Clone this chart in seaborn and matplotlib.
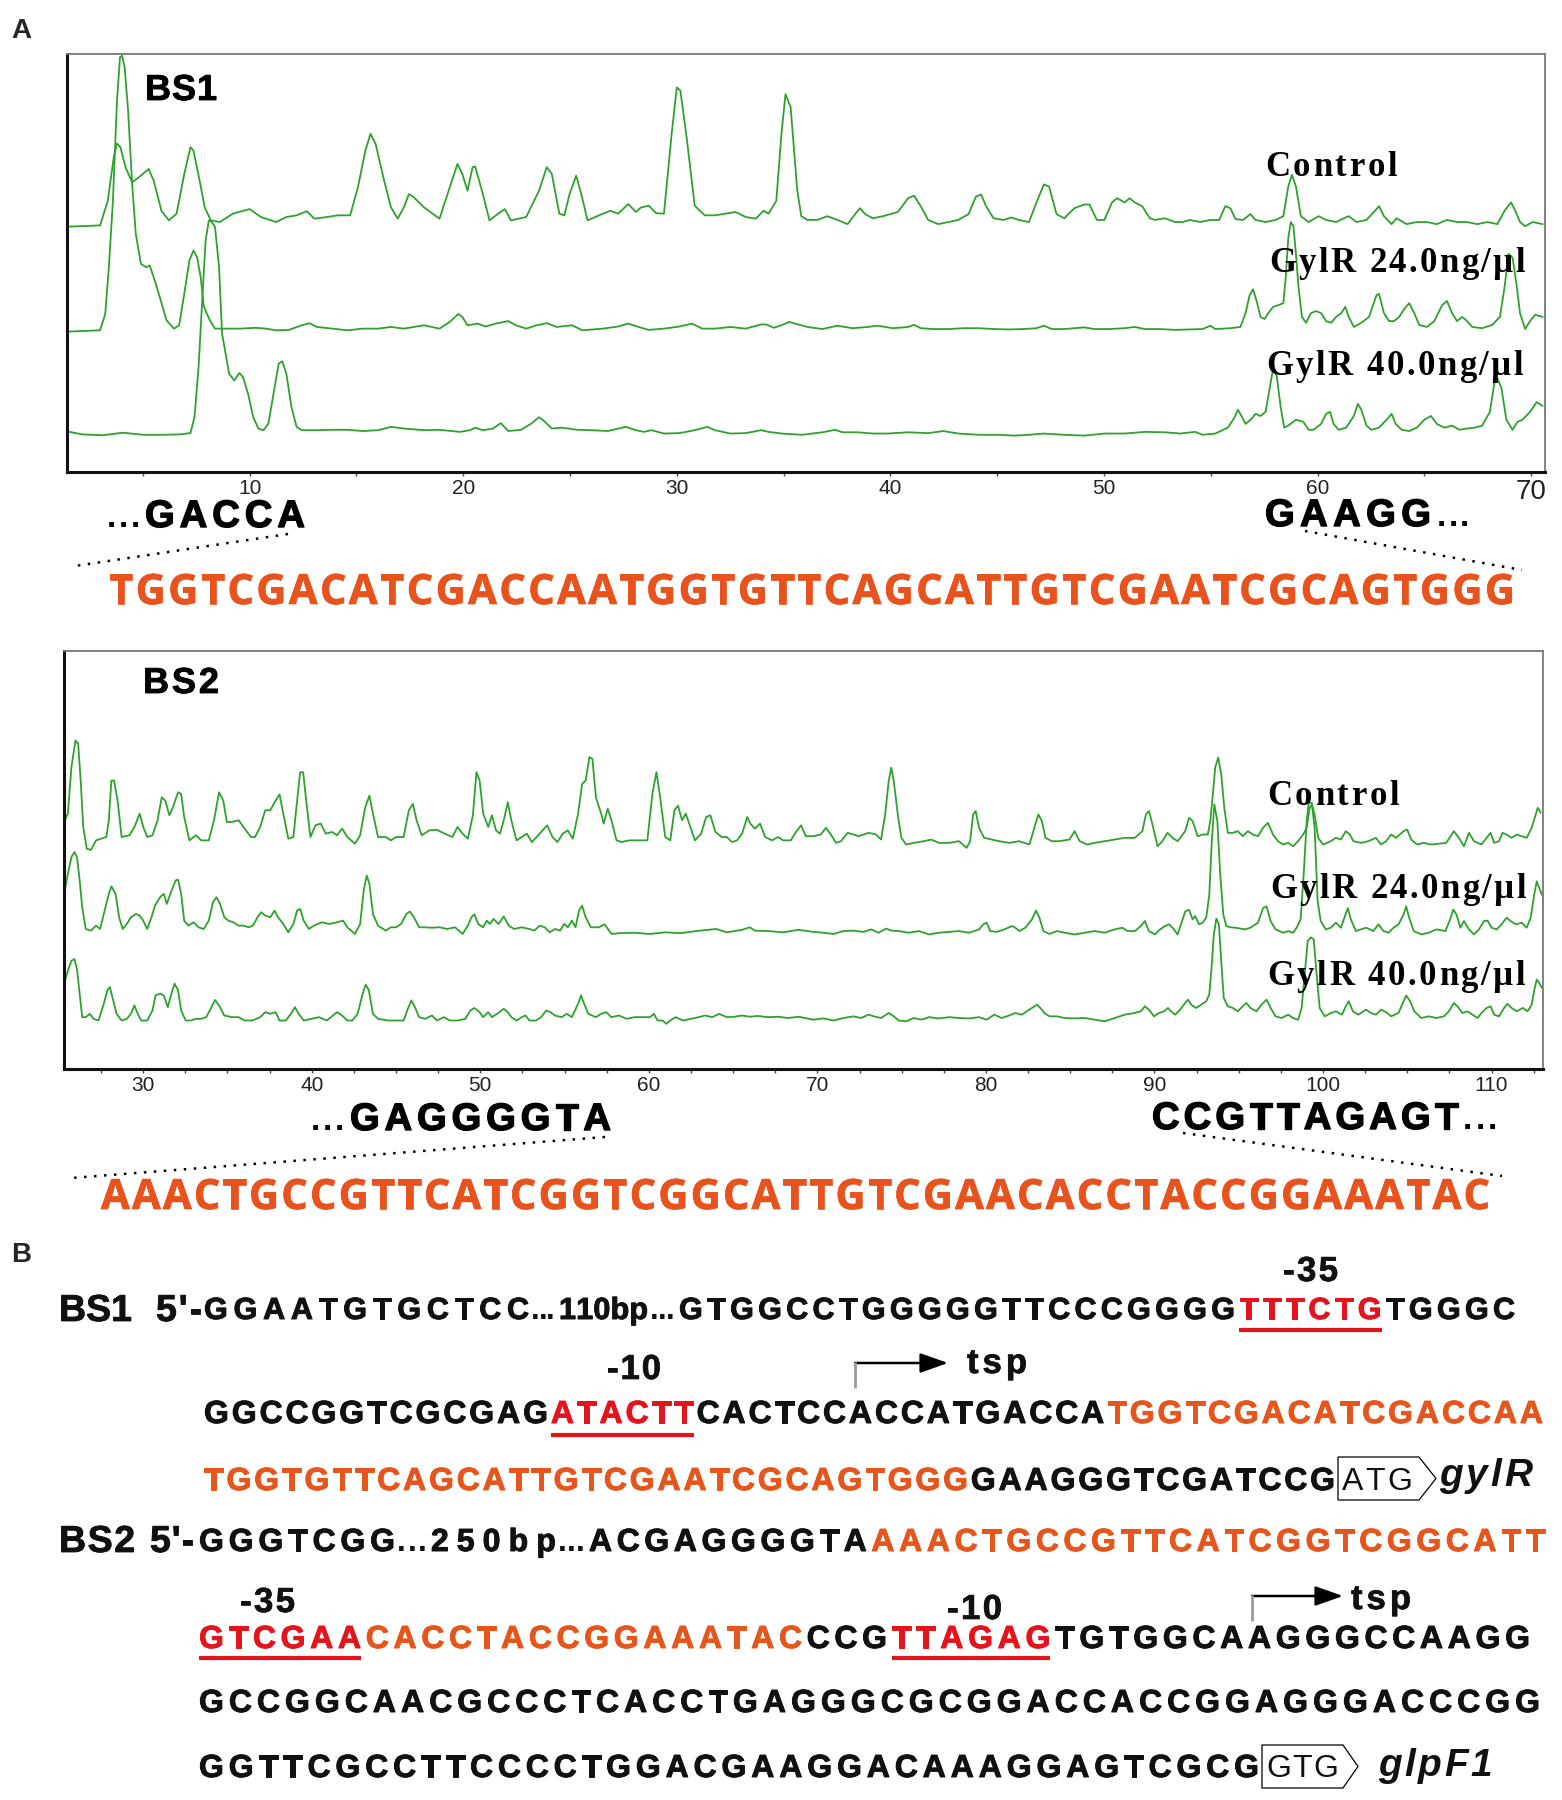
import numpy as np
import pandas as pd
import matplotlib
matplotlib.use('Agg')
import matplotlib.pyplot as plt
import seaborn as sns
from matplotlib.font_manager import FontProperties
from matplotlib.lines import Line2D
from matplotlib.patches import Polygon, FancyArrowPatch, ArrowStyle
from matplotlib.ticker import MultipleLocator
from matplotlib import patheffects

# ---------------------------------------------------------------- data
# BS1 footprint traces (position in bp, relative signal in % of panel height)
bs1_control_bp = [1.57,3.00,3.36,3.64,3.79,3.95,4.19,4.50,4.91,5.27,5.51,5.87,6.22,6.58,6.94,7.23,7.37,7.66,7.90,8.18,8.61,9.21,10.00,10.53,11.24,11.72,12.20,12.68,13.03,13.63,14.11,14.71,15.07,15.42,15.66,15.90,16.26,16.62,16.93,17.22,17.46,17.69,18.17,18.89,19.37,19.73,19.96,20.20,20.44,20.56,20.92,21.23,21.64,21.95,22.23,22.95,23.55,23.91,24.15,24.50,24.74,24.98,25.29,25.53,25.82,26.54,26.89,27.25,27.73,28.09,28.33,28.69,29.04,29.40,29.76,30.00,30.17,30.48,30.84,31.31,31.79,32.27,32.75,33.23,33.70,34.06,34.30,34.66,34.90,35.09,35.33,
                  35.64,35.83,36.11,36.58,37.05,37.52,38.00,38.35,38.58,38.82,39.17,39.65,40.35,40.83,41.11,41.42,41.77,42.24,42.71,43.18,43.66,44.01,44.25,44.48,44.83,45.31,45.66,46.01,46.49,46.84,47.19,47.43,47.78,48.14,48.61,49.08,49.32,49.67,50.02,50.38,50.61,50.97,51.20,51.44,51.79,52.15,52.38,52.85,53.33,53.68,54.03,54.50,54.98,55.40,55.68,55.92,56.16,56.51,56.86,57.10,57.57,58.04,58.40,58.63,58.80,58.99,59.22,59.58,60.05,60.40,60.87,61.23,61.46,61.82,62.29,62.64,62.88,63.11,63.47,63.70,64.17,64.65,65.12,65.59,66.06,66.53,67.00,67.48,67.95,68.42,68.77,69.06,69.25,69.48,69.72,70.07,70.54]
bs1_control_sig = [58.7,59.0,64.9,75.3,78.6,77.7,72.9,69.3,70.9,72.5,69.7,62.5,60.2,61.8,71.3,77.7,76.9,69.7,63.3,60.2,59.8,61.8,62.9,61.0,59.8,61.0,61.4,62.4,60.6,61.0,61.4,61.4,68.1,76.9,80.9,78.5,70.5,63.3,60.6,63.3,66.5,65.7,63.3,60.6,68.1,73.7,71.3,67.3,72.9,73.1,66.5,60.2,61.8,62.9,60.2,61.0,67.3,72.9,71.3,61.8,61.4,66.5,70.9,66.5,60.2,61.8,62.5,61.8,64.1,62.2,63.3,63.7,61.9,61.8,80.9,92.0,91.2,79.3,63.7,61.4,61.4,61.8,62.2,61.0,60.6,62.5,61.8,64.9,80.9,90.4,87.3,
                   67.4,61.2,60.3,60.3,61.2,60.3,59.3,61.7,63.1,61.7,60.7,61.2,62.2,65.5,66.1,63.6,60.3,59.3,59.8,60.3,61.7,65.9,66.4,63.6,60.7,60.3,60.9,60.3,59.8,64.5,68.8,68.3,61.7,60.7,63.1,64.0,64.0,60.3,60.3,64.5,65.5,64.5,65.5,64.5,63.6,60.7,60.3,60.7,59.8,59.8,60.3,59.8,60.3,60.3,63.6,63.1,60.5,60.3,61.7,60.3,59.8,60.3,61.2,68.3,71.1,68.3,61.2,59.8,61.2,60.3,59.8,60.7,61.2,59.8,60.3,62.2,63.6,61.2,59.3,60.7,59.3,59.8,59.8,59.3,60.3,59.8,59.8,59.3,59.8,59.3,62.6,64.5,62.6,59.8,58.8,59.8,59.3]

bs1_g24_bp = [1.57,3.00,3.24,3.41,3.60,3.79,3.93,4.03,4.15,4.31,4.50,4.67,4.91,5.15,5.32,5.51,5.75,6.11,6.46,6.70,6.94,7.18,7.37,7.54,7.71,7.85,7.97,8.14,8.38,8.85,9.57,10.29,10.76,11.24,11.84,12.44,12.80,13.15,13.87,14.59,15.30,16.02,16.62,17.22,18.17,18.89,19.37,19.77,19.96,20.20,20.68,21.04,21.52,22.11,22.47,22.95,23.43,23.91,24.38,25.10,25.58,26.54,27.25,27.73,28.21,28.69,29.40,30.12,30.72,31.19,31.79,32.51,33.23,33.94,34.18,34.54,34.90,35.26,
              36.11,36.82,37.52,38.23,38.94,39.41,40.12,40.83,41.11,41.42,42.00,42.71,43.42,44.13,44.83,45.54,46.25,46.84,47.19,47.55,48.14,48.61,49.08,49.55,50.26,50.97,51.44,51.91,52.62,53.33,54.03,54.62,54.98,55.21,55.92,56.39,56.63,56.82,56.98,57.15,57.33,57.52,57.69,57.92,58.16,58.40,58.51,58.63,58.75,58.87,58.99,59.10,59.27,59.46,59.69,59.93,60.17,60.40,60.64,60.87,61.11,61.30,61.46,61.70,62.05,62.41,62.76,62.88,63.11,63.35,63.58,63.82,64.06,64.29,64.53,64.76,65.12,65.47,65.83,66.06,66.30,66.53,66.77,67.00,67.24,67.71,68.18,68.54,68.77,68.94,69.13,69.32,69.48,69.72,69.95,70.19,70.54]
bs1_g24_sig = [33.6,33.9,37.8,49.0,64.9,88.8,99.2,99.6,96.8,86.5,68.9,57.0,49.8,49.0,49.4,46.6,42.6,36.3,34.3,35.1,42.6,50.6,53.0,51.4,46.6,39.8,38.2,36.3,34.3,34.3,34.3,34.5,34.3,33.9,34.0,35.1,35.6,34.7,34.3,33.9,34.3,34.3,34.7,34.3,35.1,34.3,35.9,37.8,37.1,35.1,35.5,34.8,35.5,36.1,35.1,34.3,35.1,35.6,34.7,35.1,33.9,34.3,34.8,35.5,34.7,34.0,34.3,34.8,35.5,34.3,34.3,34.7,34.3,35.3,35.3,34.5,35.1,35.9,
               34.7,34.2,35.0,34.4,34.7,35.0,34.4,34.7,35.2,34.4,34.2,34.2,34.4,34.4,34.2,34.1,34.2,34.4,35.0,34.2,34.2,34.4,34.6,34.2,34.2,34.4,34.7,34.2,34.2,34.0,34.1,34.2,35.0,34.2,34.4,34.7,38.0,42.3,43.7,40.9,37.1,36.6,38.0,39.5,39.9,40.4,46.5,56.0,59.8,58.8,52.2,44.7,37.1,35.7,38.0,38.5,38.0,36.1,35.7,37.1,38.0,39.5,37.1,34.7,35.7,37.1,42.3,42.6,38.0,36.1,36.1,37.1,39.0,40.4,38.0,35.2,34.7,36.1,39.9,40.9,38.0,36.1,37.1,36.1,34.7,34.4,35.2,37.1,44.7,52.2,51.3,44.7,38.0,34.2,36.1,37.6,37.1]

bs1_g40_bp = [1.57,2.16,3.12,4.07,5.03,5.99,6.70,7.23,7.42,7.61,7.78,7.94,8.09,8.23,8.38,8.57,8.71,8.85,9.04,9.28,9.52,9.69,9.93,10.17,10.41,10.65,10.88,11.12,11.36,11.53,11.72,11.96,12.20,12.44,13.15,13.87,14.59,15.30,16.02,16.62,17.22,18.17,18.89,19.84,20.32,20.56,20.92,21.40,21.76,22.11,22.71,23.19,23.55,23.79,24.15,24.62,25.34,26.06,26.77,27.61,28.09,28.45,28.81,29.40,30.12,30.84,31.43,31.79,32.51,33.23,33.94,34.30,34.90,
              35.87,36.82,37.41,37.76,38.47,39.17,39.88,40.83,41.77,42.48,43.18,44.13,45.07,45.78,46.49,47.19,48.14,49.08,50.02,50.97,51.91,52.85,53.56,54.27,54.62,55.21,55.80,56.11,56.27,56.44,56.63,56.86,57.10,57.33,57.57,57.76,57.92,58.09,58.28,58.44,58.63,58.99,59.34,59.58,59.81,60.17,60.40,60.59,60.75,60.99,61.34,61.70,61.89,62.05,62.29,62.52,62.88,63.23,63.47,63.66,63.94,64.29,64.65,65.00,65.31,65.59,65.94,66.30,66.65,67.00,67.36,67.71,68.07,68.30,68.42,68.61,68.84,69.13,69.36,69.60,69.95,70.26,70.54]
bs1_g40_sig = [9.6,9.0,8.8,9.4,8.9,8.9,9.0,9.3,13.1,25.1,41.0,55.4,60.2,59.8,58.6,49.0,33.1,29.1,23.5,21.9,23.7,22.7,18.7,13.1,10.4,10.0,11.6,18.7,25.9,26.5,23.5,15.5,10.8,10.0,10.0,10.1,10.1,9.8,10.0,10.8,10.4,10.0,10.1,9.6,10.0,10.6,10.0,10.4,11.7,9.8,10.1,11.6,13.1,12.2,10.4,10.6,10.1,10.0,9.8,10.8,10.0,9.6,10.0,9.2,9.3,10.0,10.8,10.0,9.2,9.3,10.0,9.6,9.2,
               8.9,9.5,10.1,9.5,9.5,9.2,9.2,9.5,9.3,9.8,9.2,8.9,8.9,8.7,8.9,9.2,8.9,8.7,9.2,9.2,9.6,9.5,9.2,9.6,8.9,9.2,10.6,13.0,14.9,13.4,11.5,12.5,13.9,13.4,14.4,20.1,24.8,22.9,15.3,10.6,11.1,12.5,12.0,10.1,10.1,11.5,13.9,14.4,11.5,10.1,10.6,13.4,16.3,14.9,11.1,10.1,10.6,12.5,13.9,11.5,10.1,9.8,10.6,12.5,13.4,11.5,10.6,11.1,10.1,10.4,10.6,11.1,14.4,21.9,22.4,20.1,12.5,10.1,12.0,12.5,14.4,16.7,15.8]

# BS2 footprint traces
bs2_control_bp = [25.31,25.53,25.74,25.98,26.14,26.29,26.44,26.65,26.90,27.20,27.50,27.81,27.96,28.11,28.27,28.48,28.72,29.18,29.48,29.79,30.00,30.24,30.55,30.85,31.10,31.31,31.55,31.76,32.07,32.25,32.43,32.74,33.13,33.44,33.89,34.20,34.50,34.75,34.96,35.26,35.66,36.02,36.39,36.63,36.94,37.24,37.54,37.85,38.09,38.31,38.61,38.91,39.07,39.31,39.49,39.67,39.92,40.22,40.53,40.83,41.20,41.50,41.80,42.11,42.56,42.87,43.17,43.42,43.63,43.93,44.39,44.69,45.00,45.45,45.76,46.00,46.22,46.52,46.98,47.43,47.89,48.34,48.65,48.95,49.26,49.56,49.77,49.96,50.17,50.47,50.69,50.93,51.17,51.39,51.63,51.84,52.15,52.45,52.76,53.06,53.52,53.97,54.28,54.58,54.89,55.19,55.49,55.80,56.04,56.25,56.47,56.65,56.86,57.17,57.32,57.56,57.78,58.08,58.38,58.84,59.45,59.91,60.21,60.45,60.67,60.97,61.27,61.52,61.73,61.97,62.19,62.43,62.73,63.10,63.40,63.65,63.95,64.32,64.62,64.93,65.23,65.53,65.84,66.02,66.29,66.60,66.90,67.30,67.66,67.97,68.42,68.73,69.03,
                  69.31,69.76,70.21,70.50,70.80,71.10,71.40,71.79,72.14,72.44,72.74,73.04,73.48,73.78,74.02,74.23,74.38,74.53,74.77,74.98,75.27,75.72,76.32,76.76,77.21,77.81,78.40,78.85,79.06,79.24,79.39,79.59,79.89,80.34,80.79,81.38,81.98,82.58,82.87,83.11,83.32,83.53,83.92,84.36,84.96,85.26,85.56,86.00,86.45,87.05,87.64,88.24,88.83,89.28,89.49,89.67,89.88,90.18,90.47,90.77,91.07,91.37,91.82,92.05,92.26,92.56,92.86,93.16,93.31,93.48,93.60,93.78,93.96,94.14,94.35,94.65,94.94,95.24,95.54,95.84,96.14,96.44,96.73,97.03,97.33,97.63,97.93,98.22,98.52,98.82,99.03,99.21,99.33,99.50,99.71,100.01,100.46,100.76,101.06,101.35,101.59,101.80,102.25,102.69,103.14,103.44,103.74,104.04,104.33,104.78,104.99,105.23,105.59,105.97,106.42,106.87,107.31,107.76,108.06,108.36,108.66,108.95,109.40,109.70,109.94,110.15,110.44,110.65,110.89,111.19,111.49,111.79,112.08,112.38,112.62,112.74,112.92]
bs2_control_sig = [59.1,61.1,72.2,78.6,77.8,69.0,57.9,52.7,52.4,54.7,55.1,55.5,59.5,69.0,69.0,64.2,55.5,55.9,57.9,61.1,57.9,55.5,55.9,59.5,65.0,64.2,60.7,62.6,66.2,65.8,60.3,54.7,55.9,54.7,54.7,59.5,66.2,64.2,59.1,59.1,59.5,57.5,55.5,55.5,57.9,61.9,61.9,64.2,65.7,61.1,55.1,55.5,61.9,71.0,71.0,64.2,55.5,58.3,58.7,56.3,56.7,55.9,57.5,55.5,53.9,55.9,62.6,65.4,61.1,55.5,55.5,54.7,55.5,55.5,61.9,63.4,59.5,55.9,57.1,57.2,56.3,55.5,57.9,56.3,55.1,60.7,71.0,69.0,61.1,57.9,60.7,57.1,56.3,59.5,63.8,59.5,54.7,55.5,56.3,54.3,56.3,58.3,55.5,54.3,56.3,57.1,55.1,61.1,68.2,69.0,74.6,74.2,65.0,61.1,58.7,62.3,59.5,54.7,54.3,54.7,54.7,54.7,65.8,71.0,65.0,55.5,54.7,61.9,63.0,59.5,61.1,58.3,54.7,56.3,60.3,60.7,56.7,55.5,55.5,54.3,54.7,56.3,60.3,58.7,57.5,58.7,55.5,54.7,55.5,54.7,54.7,56.7,58.3,
                   55.7,55.7,56.1,57.7,56.1,54.1,54.5,56.5,56.1,55.7,56.1,56.5,56.1,54.9,60.9,68.9,72.1,68.9,60.9,55.3,53.7,54.1,54.5,54.9,54.1,54.1,54.5,52.9,54.5,60.9,61.7,57.7,55.3,54.9,54.5,54.1,54.5,53.7,57.7,60.9,59.3,55.3,54.5,54.5,54.9,56.9,54.5,53.7,54.1,54.5,54.9,55.3,55.3,56.9,60.9,61.7,58.5,53.3,54.5,56.5,55.3,54.5,56.9,60.1,59.3,55.7,56.1,56.1,59.3,66.5,72.1,74.5,70.5,62.5,56.5,56.5,56.9,55.7,56.9,56.1,55.7,57.7,58.9,56.1,54.5,53.7,54.1,53.3,54.5,56.1,57.7,62.5,63.3,60.9,55.3,53.7,54.5,55.3,54.9,56.9,56.1,54.5,54.1,54.5,55.3,53.7,54.5,56.1,55.3,56.9,57.3,54.9,53.7,54.1,53.7,53.9,54.1,56.9,55.3,53.3,56.5,54.5,53.7,55.3,56.5,54.1,54.5,56.5,56.1,55.3,56.1,55.7,55.3,57.7,60.9,62.5,61.3]

bs2_g24_bp = [25.31,25.53,25.74,25.92,26.07,26.23,26.38,26.59,26.90,27.20,27.44,27.66,27.96,28.11,28.36,28.57,28.78,29.03,29.27,29.57,29.79,30.00,30.24,30.49,30.70,31.00,31.22,31.40,31.61,31.92,32.07,32.25,32.43,32.68,32.98,33.29,33.59,33.89,34.14,34.35,34.56,34.81,35.05,35.35,35.66,35.96,36.27,36.51,36.78,37.00,37.24,37.54,37.79,38.00,38.31,38.61,38.91,39.13,39.31,39.52,39.83,40.13,40.59,41.04,41.50,41.86,42.11,42.56,42.87,43.08,43.26,43.42,43.63,43.93,44.39,44.69,45.00,45.30,45.61,45.82,46.06,46.37,46.67,47.13,47.58,48.04,48.50,48.95,49.26,49.47,49.65,49.87,50.17,50.38,50.57,50.78,51.08,51.39,51.69,52.00,52.45,52.91,53.21,53.52,53.82,54.12,54.43,54.73,54.98,55.19,55.43,55.65,55.86,56.04,56.25,56.56,57.02,57.38,57.78,58.23,59.14,60.06,60.97,61.88,62.80,64.01,64.62,65.53,65.99,66.29,67.05,67.97,68.88,
              69.76,70.36,70.95,71.55,72.14,72.74,73.19,73.63,74.08,74.38,74.83,75.42,76.02,76.62,77.21,77.81,78.40,79.00,79.59,79.84,80.05,80.25,80.64,81.09,81.54,81.74,81.98,82.34,82.73,82.97,83.17,83.41,83.77,84.21,84.66,85.26,85.86,86.45,87.05,87.64,88.09,88.39,88.83,89.19,89.43,89.67,90.03,90.33,90.63,90.86,91.07,91.37,91.67,91.82,92.05,92.26,92.41,92.65,92.86,93.07,93.25,93.40,93.55,93.73,93.90,94.08,94.26,94.50,94.80,95.10,95.39,95.69,96.14,96.44,96.65,96.89,97.18,97.63,97.93,98.22,98.43,98.67,98.85,99.03,99.15,99.33,99.50,99.68,99.86,100.16,100.46,100.76,101.06,101.30,101.47,101.65,101.95,102.25,102.55,102.99,103.29,103.59,103.89,104.18,104.48,104.78,104.93,105.11,105.38,105.83,106.27,106.72,107.26,107.50,107.73,107.91,108.15,108.36,108.66,108.95,109.25,109.55,109.76,110.00,110.30,110.59,110.89,111.13,111.43,111.79,112.08,112.32,112.53,112.68,112.83,112.98]
bs2_g24_sig = [41.9,46.7,50.7,51.9,50.7,45.1,38.7,33.5,33.1,34.3,33.5,37.1,41.9,43.7,41.9,36.3,33.5,34.7,36.3,37.1,36.7,35.5,33.5,36.3,39.1,41.1,41.9,39.5,41.9,45.1,45.3,41.9,35.5,34.3,35.1,33.9,33.5,35.5,39.9,41.1,39.5,36.3,35.5,35.1,34.3,34.3,33.9,34.3,36.3,37.5,36.7,36.3,37.9,36.3,34.7,32.7,34.7,37.9,38.3,35.5,33.5,34.3,35.1,34.7,35.1,35.5,33.9,32.3,34.7,42.7,46.3,44.3,37.1,34.3,33.1,33.9,33.9,34.7,37.1,37.7,36.3,33.9,33.9,33.8,33.9,33.5,33.9,32.3,34.3,36.3,37.0,34.7,33.9,35.5,34.7,35.9,34.7,36.5,34.3,33.5,33.9,33.5,33.1,34.3,33.9,32.7,33.5,33.1,34.7,33.9,35.5,33.9,37.9,39.1,36.3,33.9,33.9,34.6,32.3,32.5,32.6,32.3,32.7,32.5,33.0,33.5,32.7,33.3,33.9,33.1,33.0,32.7,33.3,
               32.8,32.6,32.3,33.0,33.1,32.8,33.4,32.6,33.6,33.1,33.0,32.6,33.0,32.2,32.6,32.8,33.0,32.6,33.4,34.6,35.0,33.0,32.8,33.4,34.2,33.8,33.0,33.8,35.8,37.9,36.2,33.0,32.3,33.0,32.6,32.2,32.6,33.0,32.6,33.4,33.8,33.0,33.0,34.2,35.4,33.0,32.2,33.4,34.2,34.6,33.8,32.2,35.8,37.7,38.1,35.8,36.6,34.6,35.0,36.2,41.7,54.5,63.3,59.3,46.5,37.0,34.2,33.9,33.8,33.6,33.4,33.8,35.0,38.5,38.9,35.4,33.4,32.6,33.0,32.6,33.8,35.8,46.5,59.3,63.7,63.7,57.7,40.1,35.4,33.4,33.8,35.0,33.8,36.6,38.5,35.8,33.0,33.4,33.8,33.0,34.6,33.0,32.6,33.8,34.6,37.0,38.9,36.2,33.0,32.2,32.6,33.4,33.0,35.4,38.1,37.0,33.8,35.4,33.4,32.2,33.4,35.4,35.5,33.8,33.4,34.6,36.2,35.4,34.6,35.0,33.8,36.2,41.7,44.9,43.3,41.7]

bs2_g40_bp = [25.31,25.53,25.74,25.92,26.07,26.23,26.38,26.59,26.84,27.05,27.35,27.66,27.87,28.02,28.17,28.42,28.72,29.03,29.27,29.48,29.63,29.88,30.24,30.55,30.73,31.00,31.22,31.46,31.67,31.86,32.07,32.25,32.52,32.83,33.13,33.44,33.74,34.05,34.26,34.50,34.81,35.26,35.66,36.02,36.48,36.94,37.24,37.54,37.85,38.09,38.46,38.76,39.00,39.22,39.52,39.98,40.43,40.89,41.26,41.50,41.80,42.11,42.41,42.72,43.02,43.20,43.39,43.63,43.93,44.54,45.00,45.45,45.70,45.91,46.12,46.37,46.73,47.13,47.43,47.83,48.19,48.65,49.11,49.41,49.65,49.96,50.17,50.47,50.69,50.99,51.39,51.63,51.84,52.15,52.45,52.69,52.91,53.30,53.61,53.91,54.16,54.43,54.82,55.13,55.43,55.80,55.98,56.16,56.41,56.86,57.17,57.47,57.78,58.23,58.69,59.14,59.69,60.06,60.30,60.51,60.82,61.03,61.27,61.58,62.03,62.49,62.95,63.34,63.77,64.16,64.62,65.08,65.53,65.99,66.45,67.05,67.66,68.27,68.88,
              69.76,70.36,70.95,71.55,72.14,72.59,73.04,73.34,73.78,74.23,74.53,74.83,75.27,75.72,76.17,76.62,77.21,77.81,78.40,79.00,79.59,80.05,80.49,80.94,81.38,81.74,82.13,82.43,82.73,83.03,83.23,83.47,83.77,84.21,84.66,85.26,85.86,86.45,87.05,87.64,88.24,88.83,89.19,89.43,89.67,89.97,90.27,90.57,90.80,90.98,91.22,91.52,91.82,92.00,92.17,92.47,92.77,93.07,93.25,93.37,93.52,93.67,93.82,93.96,94.11,94.35,94.65,94.94,95.24,95.45,95.69,96.05,96.35,96.65,96.89,97.18,97.54,97.93,98.22,98.52,98.73,98.91,99.09,99.27,99.45,99.62,99.80,100.10,100.46,100.76,101.12,101.35,101.53,101.77,102.10,102.55,102.84,103.14,103.44,103.74,104.04,104.48,104.69,104.93,105.17,105.41,105.83,106.27,106.72,107.17,107.47,107.76,107.97,108.27,108.57,108.87,109.16,109.40,109.70,109.94,110.15,110.44,110.74,110.95,111.19,111.49,111.85,112.14,112.38,112.56,112.68,112.83,112.98]
bs2_g40_sig = [20.4,23.5,25.9,26.3,23.9,18.0,12.4,12.4,13.2,12.0,11.6,15.6,18.8,19.6,17.2,13.2,11.6,12.0,13.2,15.2,13.6,11.6,11.6,14.0,17.6,18.0,17.6,14.8,18.0,20.4,18.8,14.0,11.6,11.6,12.0,12.0,12.4,14.8,16.5,15.2,12.8,12.4,12.4,11.6,11.6,12.4,13.6,13.2,13.6,11.6,11.6,13.2,14.8,13.2,11.6,12.0,12.4,11.6,12.8,13.6,12.8,11.6,11.6,13.2,18.0,20.2,18.8,13.2,12.0,11.6,11.6,11.6,14.4,16.4,14.8,12.4,12.0,12.8,11.6,12.4,11.6,11.6,12.0,14.0,14.6,13.6,12.4,13.6,12.4,13.2,14.4,13.6,12.4,11.6,12.4,12.8,11.6,11.6,12.4,14.0,13.6,12.8,12.4,13.2,12.4,15.6,17.6,15.6,13.2,12.4,13.2,13.6,12.4,12.8,12.0,12.4,12.4,12.4,13.2,11.6,11.6,10.8,11.6,12.4,11.6,12.0,12.4,12.8,12.4,13.2,12.4,12.5,12.8,12.5,12.7,12.4,12.5,12.2,12.5,
               11.8,12.1,11.6,12.2,12.6,12.2,13.0,12.6,12.2,13.4,12.6,11.6,11.4,12.2,11.8,12.4,12.1,12.4,12.2,12.1,12.4,11.8,13.0,12.2,12.8,13.4,13.0,13.8,14.6,15.4,14.6,13.4,12.6,12.6,12.2,12.1,12.2,11.8,11.4,12.2,13.0,13.4,13.8,15.0,14.2,12.6,13.4,13.8,14.6,13.8,13.0,14.2,15.8,16.6,15.4,14.6,15.4,16.2,17.8,23.4,32.2,36.0,34.6,25.8,17.0,15.0,14.6,13.8,15.0,15.8,14.6,13.8,15.4,16.6,14.6,12.6,12.2,13.0,12.2,11.8,14.6,22.6,30.6,31.5,31.0,22.6,14.6,12.6,13.4,13.8,13.0,15.0,16.2,13.8,13.0,14.2,13.4,13.0,14.2,13.6,12.6,13.4,15.4,17.6,16.2,13.8,12.2,12.6,12.2,12.6,13.8,15.8,15.0,13.4,13.8,13.0,12.2,13.4,14.6,15.0,13.0,12.6,14.6,15.6,14.6,13.8,14.6,13.8,15.4,19.4,21.4,20.6,19.4]

trace_names = ['Control', 'GylR 24.0ng/\u00b5l', 'GylR 40.0ng/\u00b5l']
bs1_ticks = [10, 20, 30, 40, 50, 60, 70]
bs2_ticks = [30, 40, 50, 60, 70, 80, 90, 100, 110]

seqA1_left, seqA1_right = 'GACCA', 'GAAGG'
seqA1 = 'TGGTCGACATCGACCAATGGTGTTCAGCATTGTCGAATCGCAGTGGG'
seqA2_left, seqA2_right = 'GAGGGGTA', 'CCGTTAGAGT'
seqA2 = 'AAACTGCCGTTCATCGGTCGGCATTGTCGAACACCTACCGGAAATAC'
ELL = '...'

K, RED, OR = '#111111', '#e3141c', '#e6561c'
lineB1_head = [('GGAATGTGCTCC', K)]
lineB1_gap = [('110bp', K)]
lineB1_tail = [('GTGGCCTGGGGGTTCCCGGGG', K), ('TTTCTG', RED), ('TGGGC', K)]
lineB2 = [('GGCCGGTCGCGAG', K), ('ATACTT', RED), ('CACTCCACCATGACCA', K), ('TGGTCGACATCGACCAA', OR)]
lineB3 = [('TGGTGTTCAGCATTGTCGAATCGCAGTGGG', OR), ('GAAGGGTCGATCCG', K)]
lineB4_head = [('GGGTCGG', K)]
lineB4_gap = [('250bp', K)]
lineB4_tail = [('ACGAGGGGTA', K), ('AAACTGCCGTTCATCGGTCGGCATT', OR)]
lineB5 = [('GTCGAA', RED), ('CACCTACCGGAAATAC', OR), ('CCG', K), ('TTAGAG', RED), ('TGTGGCAAGGGCCAAGG', K)]
lineB6 = [('GCCGGCAACGCCCTCACCTGAGGGCGCGGACCACCGGAGGGACCCGG', K)]
lineB7 = [('GGTTCGCCTTCCCCTGGACGAAGGACAAAGGAGTCGCG', K)]

# ---------------------------------------------------------------- figure
W, H, DPI = 1562, 1800, 100
GREEN = '#2ea12e'
ORANGE_A = '#e8521c'

sns.set_theme(style='white')
plt.rcParams['font.family'] = ['Liberation Sans', 'DejaVu Sans']

fig = plt.figure(figsize=(W / DPI, H / DPI), dpi=DPI)
fig.patch.set_facecolor('white')
renderer = fig.canvas.get_renderer()


def fx(x):
    return x / W


def fy(y):
    return 1 - y / H


def tracked(segs, x0, x1, base, size, family=('Liberation Sans', 'DejaVu Sans'),
            weight='bold', style='normal', stroke=0.0):
    fp = FontProperties(family=list(family), weight=weight, style=style, size=size)
    chars = [(ch, c) for s, c in segs for ch in s]
    widths = [renderer.get_text_width_height_descent(ch, fp, ismath=False)[0] for ch, _ in chars]
    n = len(chars)
    gap = (x1 - x0 - sum(widths)) / max(n - 1, 1)
    x = x0
    ext = []
    for (ch, c), w in zip(chars, widths):
        t = fig.text(fx(x), fy(base), ch, fontproperties=fp, color=c, ha='left', va='baseline')
        if stroke > 0:
            t.set_path_effects([patheffects.withStroke(linewidth=stroke, foreground=c)])
        ext.append((x, x + w))
        x += w + gap
    return ext


def seg_span(ext, segs, k):
    start = sum(len(s) for s, _ in segs[:k])
    end = start + len(segs[k][0]) - 1
    return ext[start][0], ext[end][1]


def fig_line(x0, y0, x1, y1, **kw):
    fig.add_artist(Line2D([fx(x0), fx(x1)], [fy(y0), fy(y1)], transform=fig.transFigure, **kw))


def tsp_arrow(xv, ytop, ybot, xend):
    fig_line(xv, ytop - 1, xv, ybot, color='#9a9a9a', lw=2.0, solid_capstyle='butt')
    fig.add_artist(FancyArrowPatch((fx(xv), fy(ytop)), (fx(xend), fy(ytop)),
                                   transform=fig.transFigure,
                                   arrowstyle=ArrowStyle('-|>', head_length=0.85, head_width=0.3),
                                   mutation_scale=20, lw=1.8, color='black',
                                   shrinkA=0, shrinkB=0))


def gene_box(x0, x1, tip, ytop, ybot):
    ym = (ytop + ybot) / 2
    pts = [(fx(x0), fy(ytop)), (fx(x1), fy(ytop)), (fx(tip), fy(ym)),
           (fx(x1), fy(ybot)), (fx(x0), fy(ybot))]
    fig.add_artist(Polygon(pts, closed=True, fill=False, edgecolor='black', lw=0.9,
                           transform=fig.transFigure))


def draw_panel(rect_px, traces, xlim, ticks, minor, big_last=False):
    l, t, r, b = rect_px
    ax = fig.add_axes([fx(l), fy(b), (r - l) / W, (b - t) / H])
    frames = []
    for name, bp, sig in traces:
        assert len(bp) == len(sig), (name, len(bp), len(sig))
        frames.append(pd.DataFrame({'bp': bp, 'signal': sig, 'trace': name}))
    df = pd.concat(frames, ignore_index=True)
    sns.lineplot(data=df, x='bp', y='signal', hue='trace', palette=[GREEN] * 3,
                 estimator=None, sort=False, legend=False, ax=ax, linewidth=1.3)
    ax.set_xlim(*xlim)
    ax.set_ylim(0, 100)
    ax.set_yticks([])
    ax.set_xlabel('')
    ax.set_ylabel('')
    ax.set_xticks(ticks)
    ax.xaxis.set_minor_locator(MultipleLocator(minor))
    ax.set_xticklabels([str(v) for v in ticks], fontsize=15, color='#222222')
    if big_last:
        ax.get_xticklabels()[-1].set_fontsize(20)
    ax.tick_params(axis='x', which='both', direction='out', length=3, width=1,
                   color='#444444', pad=2, bottom=True)
    for side in ('left', 'bottom'):
        ax.spines[side].set_color('#111111')
        ax.spines[side].set_linewidth(2.2)
    for side in ('top', 'right'):
        ax.spines[side].set_color('#777777')
        ax.spines[side].set_linewidth(1.3)
    ax.set_facecolor('white')
    return ax


# ---------------- panel A
fig.text(fx(11), fy(38), 'A', fontsize=20, fontweight='bold', ha='left', va='baseline')

draw_panel((67, 54, 1545, 472),
           [(trace_names[0], bs1_control_bp, bs1_control_sig),
            (trace_names[1], bs1_g24_bp, bs1_g24_sig),
            (trace_names[2], bs1_g40_bp, bs1_g40_sig)],
           (1.45, 70.65), bs1_ticks, 5, big_last=True)
draw_panel((64, 651, 1543, 1069),
           [(trace_names[0], bs2_control_bp, bs2_control_sig),
            (trace_names[1], bs2_g24_bp, bs2_g24_sig),
            (trace_names[2], bs2_g40_bp, bs2_g40_sig)],
           (25.3, 113.05), bs2_ticks, 2.5)

tracked([('BS1', 'black')], 145, 217, 100, 26, stroke=0.6)
tracked([('BS2', 'black')], 143, 219, 693, 26, stroke=0.6)

SERIF = ('Liberation Serif', 'DejaVu Serif')
for name, (x0, x1, base) in zip(trace_names, [(1265, 1397, 176), (1269, 1525, 272), (1266, 1523, 375)]):
    tracked([(name, 'black')], x0, x1, base, 25, family=SERIF)
for name, (x0, x1, base) in zip(trace_names, [(1267, 1399, 805), (1270, 1526, 898), (1267, 1525, 985)]):
    tracked([(name, 'black')], x0, x1, base, 25, family=SERIF)

OPEN = ('Open Sans', 'Liberation Sans', 'DejaVu Sans')
DOT = dict(color='black', lw=1.8, linestyle=(0, (1, 3)))
LBL = 27.5
# BS1 protected sequence
tracked([(ELL, 'black')], 107, 140, 527, 24)
tracked([(seqA1_left, 'black')], 145, 305, 527, LBL, stroke=1.0)
tracked([(seqA1_right, 'black')], 1265, 1431, 526, LBL, stroke=1.0)
tracked([(ELL, 'black')], 1437, 1469, 526, 24)
tracked([(seqA1, ORANGE_A)], 109, 1515, 604, 30, family=OPEN, stroke=0.5)
fig_line(288, 534, 75, 566, **DOT)
fig_line(1305, 531, 1522, 570, **DOT)
# BS2 protected sequence
tracked([(ELL, 'black')], 311, 344, 1130, 24)
tracked([(seqA2_left, 'black')], 350, 611, 1130, LBL, stroke=1.0)
tracked([(seqA2_right, 'black')], 1152, 1458, 1129, LBL, stroke=1.0)
tracked([(ELL, 'black')], 1463, 1497, 1129, 24)
tracked([(seqA2, ORANGE_A)], 101, 1490, 1209, 30, family=OPEN, stroke=0.5)
fig_line(605, 1137, 71, 1178, **DOT)
fig_line(1183, 1133, 1502, 1176, **DOT)

# ---------------- panel B
fig.text(fx(11), fy(1262), 'B', fontsize=20, fontweight='bold', ha='left', va='baseline')
SZ = 23
ST = 0.7
UL = dict(color=RED, lw=3.0, solid_capstyle='butt')

# BS1
tracked([('BS1', K)], 59, 132, 1321, 27, stroke=0.6)
tracked([("5'-", K)], 156, 202, 1321, 27, stroke=0.6)
tracked(lineB1_head, 204, 529, 1319, 22, stroke=ST)
tracked([(ELL, K)], 531, 555, 1319, 22)
tracked(lineB1_gap, 559, 648, 1319, 22, stroke=ST)
tracked([(ELL, K)], 650, 675, 1319, 22)
e1 = tracked(lineB1_tail, 679, 1515, 1319, 22, stroke=ST)
a, b = seg_span(e1, lineB1_tail, 1)
fig_line(a, 1330, b, 1330, **UL)
tracked([('-35', K)], 1283, 1338, 1281, 25, stroke=0.5)

e2 = tracked(lineB2, 204, 1543, 1423, SZ, stroke=ST)
a, b = seg_span(e2, lineB2, 1)
fig_line(a, 1435, b, 1435, **UL)
tracked([('-10', K)], 607, 661, 1379, 25, stroke=0.5)
tsp_arrow(855, 1363, 1388, 948)
tracked([('tsp', K)], 967, 1027, 1373, 25, stroke=0.5)

e3 = tracked(lineB3, 204, 1335, 1490, SZ, stroke=ST)
gene_box(1338, 1419, 1436, 1457, 1500)
tracked([('ATG', K)], 1342, 1412, 1490, SZ, weight='normal')
tracked([('gylR', K)], 1439, 1532, 1486, 28, style='italic')

# BS2
tracked([('BS2', K)], 59, 135, 1552, 27, stroke=0.6)
tracked([("5'-", K)], 150, 194, 1552, 27, stroke=0.6)
tracked(lineB4_head, 199, 395, 1551, SZ, stroke=ST)
tracked([(ELL, K)], 397, 427, 1551, SZ)
tracked(lineB4_gap, 431, 556, 1551, SZ, stroke=ST)
tracked([(ELL, K)], 558, 585, 1551, SZ)
tracked(lineB4_tail, 589, 1545, 1551, SZ, stroke=ST)

e5 = tracked(lineB5, 199, 1530, 1648, SZ, stroke=ST)
a, b = seg_span(e5, lineB5, 0)
fig_line(a, 1658, b, 1658, **UL)
a, b = seg_span(e5, lineB5, 3)
fig_line(a, 1658, b, 1658, **UL)
tracked([('-35', K)], 240, 295, 1612, 25, stroke=0.5)
tracked([('-10', K)], 947, 1002, 1619, 25, stroke=0.5)
tsp_arrow(1252, 1596, 1621, 1343)
tracked([('tsp', K)], 1351, 1411, 1609, 25, stroke=0.5)

tracked(lineB6, 199, 1540, 1712, SZ, stroke=ST)
tracked(lineB7, 199, 1259, 1777, SZ, stroke=ST)
gene_box(1262, 1343, 1358, 1745, 1788)
tracked([('GTG', K)], 1266, 1338, 1777, SZ, weight='normal')
tracked([('glpF1', K)], 1378, 1492, 1776, 28, style='italic')

fig.savefig('out.png', dpi=DPI, facecolor='white')
